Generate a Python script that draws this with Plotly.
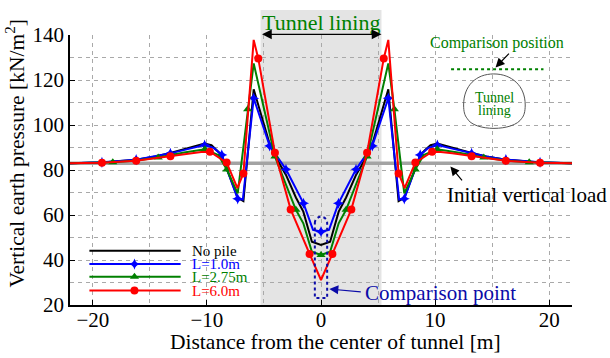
import plotly.graph_objects as go

FONT = "Liberation Serif"

# Axis extents and reference values
X_RANGE = [-22, 22]
Y_RANGE = [20, 140]
INITIAL_LOAD = 83.0          # initial vertical load [kN/m2]
LINING_HALF_WIDTH = 5.3      # tunnel lining half width [m]

# No pile
NP_X = [-22, -19.2, -16.2, -14.5, -13.2, -11.5, -10.2, -9.6, -9.15, -8.7, -7.3, -6.8, -5.9, -4.5, -4.0,
        -3.07, -2.2, -1.55, -0.8, 0, 0.8, 1.55, 2.2, 3.07, 4.0, 4.5, 5.9, 6.8, 7.3, 8.7, 9.15, 9.6,
        10.2, 11.5, 13.2, 14.5, 16.2, 19.2, 22]
NP_Y = [83.0, 83.3, 84.6, 86.0, 87.6, 89.9, 91.8, 91.0, 89.0, 86.6, 67.6, 66.2, 115.9, 91.5, 86.0,
        77.8, 67.8, 61.5, 48.1, 46.7, 48.1, 61.5, 67.8, 77.8, 86.0, 91.5, 115.9, 66.2, 67.6, 86.6, 89.0, 91.0,
        91.8, 89.9, 87.6, 86.0, 84.6, 83.3, 83.0]
NP_MARKED = []

# L = 1.0 m
L1_X = [-22, -19.2, -16.2, -14.5, -13.2, -11.5, -10.2, -9.4, -8.7, -7.3, -6.85, -5.9, -4.5, -3.07, -1.53,
        -0.7, 0, 0.7, 1.53, 3.07, 4.5, 5.9, 6.85, 7.3, 8.7, 9.4, 10.2, 11.5, 13.2, 14.5, 16.2, 19.2, 22]
L1_Y = [83.0, 83.4, 84.6, 86.0, 87.4, 89.5, 91.1, 89.8, 86.7, 67.2, 66.8, 111.9, 90.7, 80.3, 65.2,
        53.4, 52.6, 53.4, 65.2, 80.3, 90.7, 111.9, 66.8, 67.2, 86.7, 89.8, 91.1, 89.5, 87.4, 86.0, 84.6, 83.4, 83.0]
L1_MARKED = [1, 2, 4, 6, 8, 9, 11, 12, 13, 14, 16, 18, 19, 20, 21, 23, 24, 26, 28, 30, 31]

# L = 2.75 m
L275_X = [-22, -18.25, -16.2, -14.27, -12.0, -10.18, -9.0, -8.26, -7.3, -6.43, -5.9, -4.04, -3.1, -2.2,
          -1.55, -0.8, 0, 0.8, 1.55, 2.2, 3.1, 4.04, 5.9, 6.43, 7.3, 8.26, 9.0, 10.18, 12.0, 14.27, 16.2,
          18.25, 22]
L275_Y = [83.0, 83.4, 84.2, 85.6, 87.8, 89.2, 86.7, 80.2, 69.6, 107.0, 127.4, 86.0, 74.0, 62.3,
          56.3, 43.7, 42.2, 43.7, 56.3, 62.3, 74.0, 86.0, 127.4, 107.0, 69.6, 80.2, 86.7, 89.2, 87.8, 85.6, 84.2,
          83.4, 83.0]
L275_MARKED = [1, 3, 5, 7, 9, 11, 13, 16, 19, 21, 23, 25, 27, 29, 31]

# L = 6.0 m
L6_X = [-22, -19.2, -16.2, -13.2, -11.5, -10.5, -9.74, -8.27, -7.33, -6.8, -5.9, -5.5, -4.04, -2.66, -1.0,
        0, 1.0, 2.66, 4.04, 5.5, 5.9, 6.8, 7.33, 8.27, 9.74, 10.5, 11.5, 13.2, 16.2, 19.2, 22]
L6_Y = [83.0, 83.2, 84.1, 86.1, 87.4, 88.0, 88.1, 83.3, 72.0, 78.5, 137.8, 129.6, 87.7, 62.5, 42.7,
        31.1, 42.7, 62.5, 87.7, 129.6, 137.8, 78.5, 72.0, 83.3, 88.1, 88.0, 87.4, 86.1, 84.1, 83.2, 83.0]
L6_MARKED = [1, 2, 3, 6, 7, 9, 11, 12, 13, 14, 16, 17, 18, 19, 21, 23, 24, 27, 28, 29]

SERIES = [
    ("No pile", NP_X, NP_Y, NP_MARKED, "#000000", "circle", 8),
    ("L=1.0m", L1_X, L1_Y, L1_MARKED, "#0000ff", "star-diamond", 8),
    ("L=2.75m", L275_X, L275_Y, L275_MARKED, "#008000", "triangle-up", 8),
    ("L=6.0m", L6_X, L6_Y, L6_MARKED, "#ff0000", "circle", 8),
]

GREEN = "#008000"
NAVY = "#0b0ba8"
GRID = "#a9a9a9"
DASH = "4px,4px"

fig = go.Figure()
annotations = []

# initial vertical load
fig.add_trace(go.Scatter(x=X_RANGE, y=[INITIAL_LOAD, INITIAL_LOAD], mode="lines",
                         line=dict(color="#a3a3a3", width=3.5), hoverinfo="skip", showlegend=False))

for name, xs, ys, marked, color, symbol, size in SERIES:
    fig.add_trace(go.Scatter(x=xs, y=ys, mode="lines", name=name,
                             line=dict(color=color, width=2), showlegend=False))
    if marked:
        fig.add_trace(go.Scatter(x=[xs[i] for i in marked], y=[ys[i] for i in marked],
                                 mode="markers", marker=dict(color=color, symbol=symbol, size=size,
                                                             line=dict(width=0)),
                                 showlegend=False, hoverinfo="skip"))

# hand-drawn legend in the lower left corner
LEG_ROWS = [44.1, 38.2, 32.6, 26.4]
LEG_X0, LEG_X1, LEG_XM, LEG_XT = -20.3, -12.3, -16.35, -11.45
for (name, xs, ys, marked, color, symbol, size), ly in zip(SERIES, LEG_ROWS):
    fig.add_trace(go.Scatter(x=[LEG_X0, LEG_X1], y=[ly, ly], mode="lines",
                             line=dict(color=color, width=2), showlegend=False, hoverinfo="skip"))
    if marked:
        fig.add_trace(go.Scatter(x=[LEG_XM], y=[ly], mode="markers",
                                 marker=dict(color=color, symbol=symbol, size=size, line=dict(width=0)),
                                 showlegend=False, hoverinfo="skip"))
    annotations.append(dict(x=LEG_XT, y=ly, text=name, showarrow=False, xanchor="left", yanchor="middle",
                            font=dict(family=FONT, size=15, color=color)))

span = X_RANGE[1] - X_RANGE[0]
shapes = [
    # tunnel lining band
    dict(type="rect", xref="paper", yref="paper",
         x0=(-LINING_HALF_WIDTH - X_RANGE[0]) / span, x1=(LINING_HALF_WIDTH - X_RANGE[0]) / span,
         y0=0, y1=1.093, fillcolor="#e4e4e4", line=dict(width=0), layer="below"),
    # comparison position
    dict(type="line", xref="x", yref="y", x0=11.4, x1=19.5, y0=124.8, y1=124.8,
         line=dict(color=GREEN, width=2, dash="dot")),
    # tunnel section outline
    dict(type="path", xref="x", yref="y",
         path="M 12.5,108.9 C 12.5,117.5 13.6,122.7 15.14,122.7 C 16.7,122.7 17.9,117.5 17.9,108.9 "
              "C 17.9,106 17.8,104.2 17.6,103.0 C 16.9,97.0 13.4,97.0 12.8,103.0 "
              "C 12.6,104.2 12.5,106 12.5,108.9 Z",
         line=dict(color="#555555", width=1)),
    # comparison point box
    dict(type="path", xref="x", yref="y",
         path="M -0.54,56.5 C -0.54,58.0 -0.3,59.2 0,59.2 C 0.3,59.2 0.54,58.0 0.54,56.5 "
              "L 0.54,23.1 L -0.54,23.1 Z",
         line=dict(color=NAVY, width=2, dash="dot")),
]

annotations += [
    dict(xref="paper", yref="paper", x=0.5, y=1.048, text="Tunnel lining", showarrow=False,
         font=dict(family=FONT, size=22, color=GREEN), xanchor="center", yanchor="middle"),
    dict(xref="x", yref="paper", x=LINING_HALF_WIDTH, y=1.0026, axref="x", ayref="pixel",
         ax=-LINING_HALF_WIDTH, ay=0, text="", showarrow=True, arrowside="end+start",
         arrowhead=2, arrowsize=1.5, arrowwidth=1.3, arrowcolor="black"),
    dict(x=15.4, y=136.3, text="Comparison position", showarrow=False,
         font=dict(family=FONT, size=16, color=GREEN), xanchor="center", yanchor="middle"),
    dict(x=15.3, y=125.6, ax=16.6, ay=132.4, axref="x", ayref="y", text="", showarrow=True,
         arrowhead=2, arrowsize=1.5, arrowwidth=1.2, arrowcolor="black"),
    dict(x=15.25, y=112.4, text="Tunnel", showarrow=False,
         font=dict(family=FONT, size=14, color=GREEN), xanchor="center", yanchor="middle"),
    dict(x=15.25, y=106.3, text="lining", showarrow=False,
         font=dict(family=FONT, size=14, color=GREEN), xanchor="center", yanchor="middle"),
    dict(x=10.9, y=68.9, text="Initial vertical load", showarrow=False,
         font=dict(family=FONT, size=21, color="black"), xanchor="left", yanchor="middle"),
    dict(x=11.34, y=81.6, ax=12.47, ay=74.7, axref="x", ayref="y", text="", showarrow=True,
         arrowhead=2, arrowsize=1.5, arrowwidth=1.2, arrowcolor="black"),
    dict(x=3.7, y=25.3, text="Comparison point", showarrow=False,
         font=dict(family=FONT, size=21, color=NAVY), xanchor="left", yanchor="middle"),
    dict(x=0.73, y=27.1, ax=3.62, ay=25.8, axref="x", ayref="y", text="", showarrow=True,
         arrowhead=2, arrowsize=1.5, arrowwidth=1.2, arrowcolor=NAVY),
    # axis titles
    dict(xref="paper", yref="paper", x=0.528, y=-0.138, text="Distance from the center of tunnel [m]",
         showarrow=False, font=dict(family=FONT, size=21.5, color="black"), xanchor="center", yanchor="middle"),
    dict(xref="paper", yref="paper", x=-0.108, y=0.56, text="Vertical earth pressure [kN/m<sup>2</sup>]",
         showarrow=False, textangle=-90, font=dict(family=FONT, size=21.5, color="black"),
         xanchor="center", yanchor="middle"),
]

axis_common = dict(showline=True, linecolor="black", linewidth=1.5, ticks="inside", ticklen=5,
                   tickcolor="black", showgrid=True, gridcolor=GRID, gridwidth=1, griddash=DASH,
                   zeroline=False, tickfont=dict(family=FONT, size=21, color="black"))

fig.update_layout(
    width=610, height=358,
    margin=dict(l=70, r=38, t=35, b=53),
    paper_bgcolor="white", plot_bgcolor="rgba(0,0,0,0)",
    showlegend=False,
    font=dict(family=FONT),
    xaxis=dict(range=X_RANGE, tick0=-20, dtick=10, ticklabelstandoff=-5,
               minor=dict(dtick=5, showgrid=True, gridcolor=GRID, griddash=DASH), **axis_common),
    yaxis=dict(range=Y_RANGE, tick0=20, dtick=20,
               minor=dict(dtick=10, showgrid=True, gridcolor=GRID, griddash=DASH), **axis_common),
    shapes=shapes,
    annotations=annotations,
)

fig.write_html("out.html")
